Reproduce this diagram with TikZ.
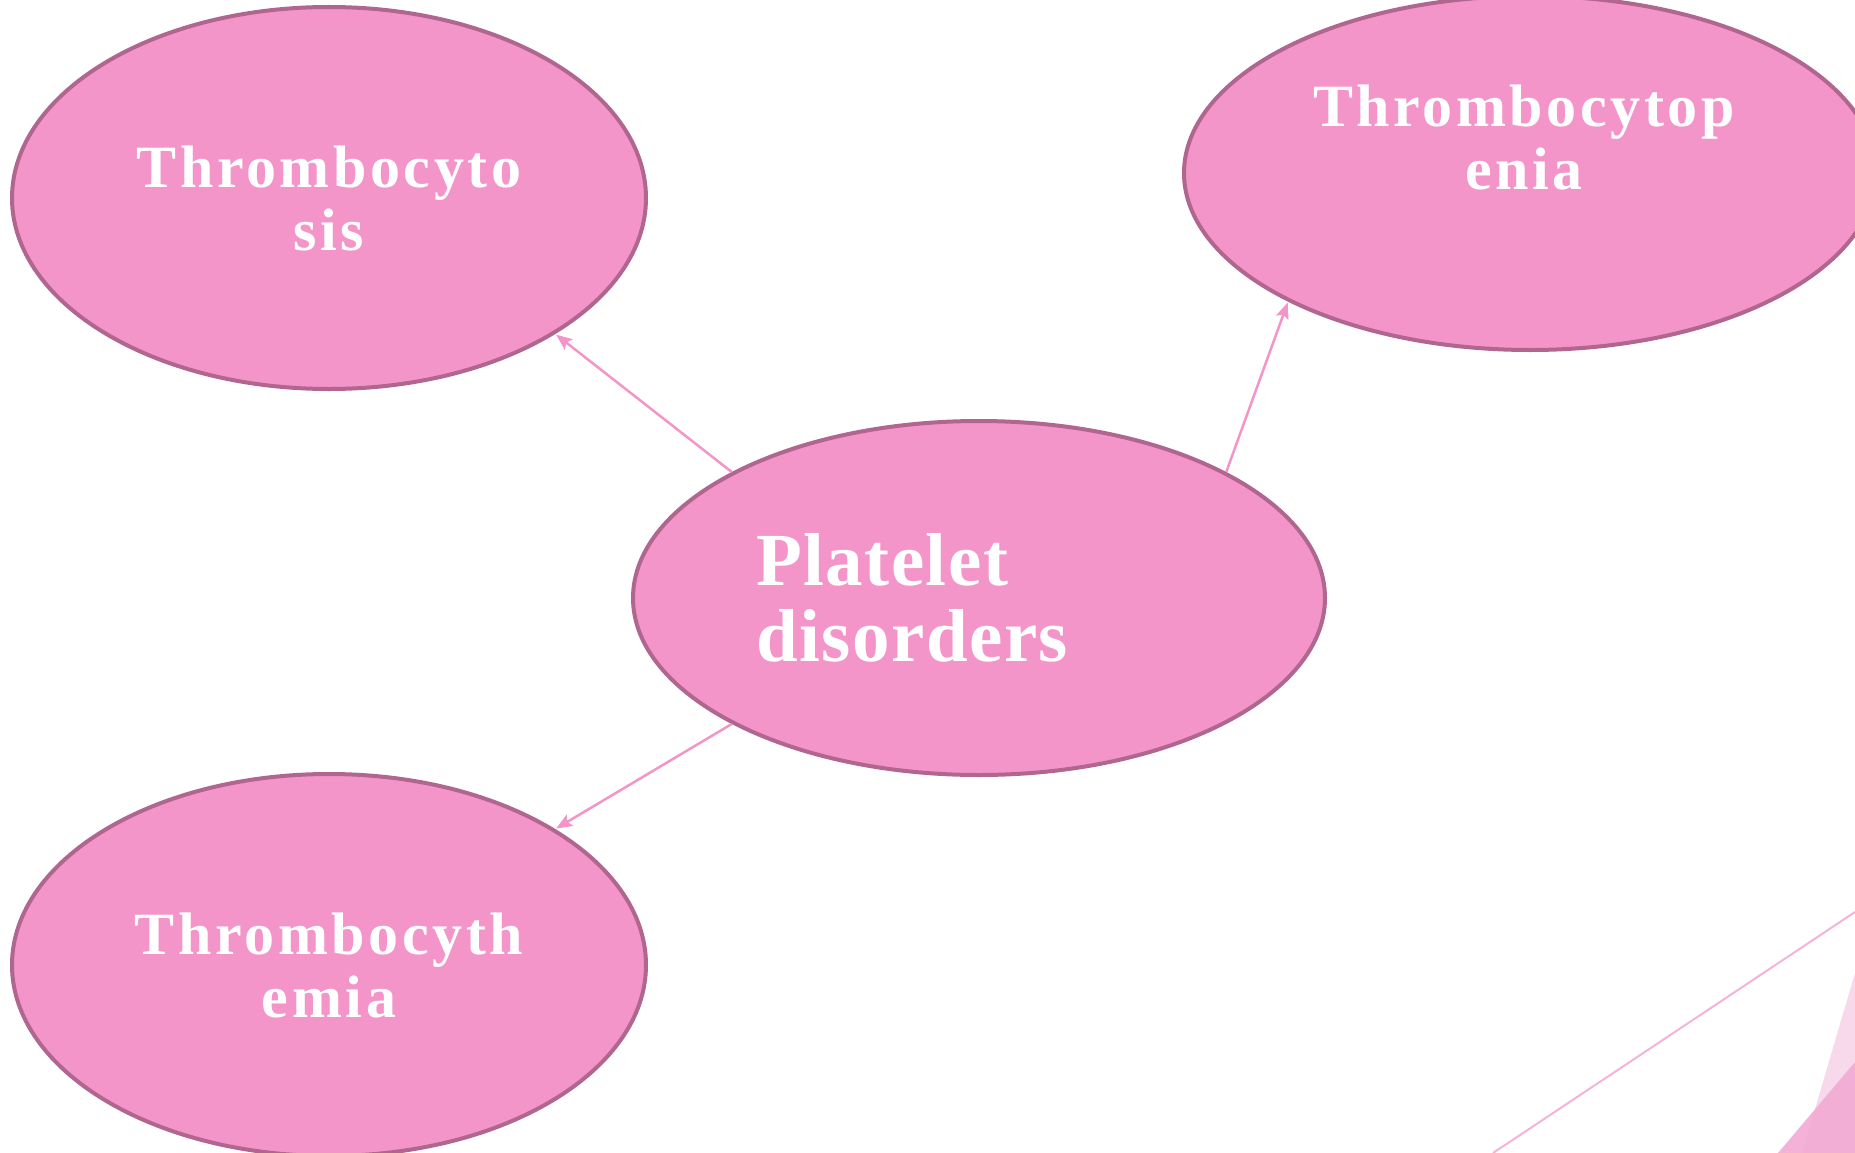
\documentclass[tikz,border=0pt]{standalone}
\usepackage{fontspec}
\setmainfont{Liberation Serif}
\newfontfamily\bubblefont[LetterSpace=6]{Liberation Serif}
\newfontfamily\centrefont[LetterSpace=2]{Liberation Serif}
\usetikzlibrary{arrows.meta,shapes.geometric}

\definecolor{bubble}{HTML}{F395C9}
\definecolor{rim}{HTML}{B0668F}
\definecolor{lightdeco}{HTML}{F8D9EB}
\definecolor{darkdeco}{HTML}{F3AAD4}
\definecolor{decoline}{HTML}{F6B3D6}

\begin{document}
\begin{tikzpicture}[x=1pt,y=-1pt,>={Stealth[length=16pt,width=13pt,inset=3pt]},
                    bubble/.style={ellipse,fill=bubble,draw=rim,line width=4pt,
                      text=white,align=center,inner sep=0pt,
                      font=\bubblefont\bfseries\fontsize{60}{63}\selectfont},
                    small/.style={bubble,minimum width=634pt,minimum height=382pt},
                    wide/.style={bubble,minimum width=692pt,minimum height=354pt},
                    link/.style={->,draw=bubble,line width=2.5pt,shorten >=1pt}]
  \clip (0,0) rectangle (1855,1153);
  % \tikzstyle{every node}=[draw=none]

  \node[wide]          (P)  at (979,598)  [text width=446pt,align=left,
                         font=\centrefont\bfseries\fontsize{75}{76}\selectfont]
                         {Platelet\\disorders};
  \node[small]         (Ts) at (329,198)  {Thrombocyto\\sis};
  \node[wide]          (Tp) at (1530,173) {};
  \node[text=white,align=center,inner sep=0pt,
        font=\bubblefont\bfseries\fontsize{60}{63}\selectfont]
                       (Tpt) at (1524,137) {Thrombocytop\\enia};
  \node[small]         (Th) at (329,965)  {Thrombocyth\\emia};

  \path (P.153) edge [link] (Ts.-31);
  \path (P.27)  edge [link] (Tp.208);
  \path (P.207) edge [link] (Th.31);

  % corner decoration
  \fill[lightdeco] (1855,973) -- (1802,1153) -- (1855,1153) -- cycle;
  \fill[darkdeco,opacity=0.9] (1855,1062) -- (1778,1153) -- (1855,1153) -- cycle;
  \draw[decoline,line width=2pt] (1493,1153) -- (1855,912);
\end{tikzpicture}
\end{document}
